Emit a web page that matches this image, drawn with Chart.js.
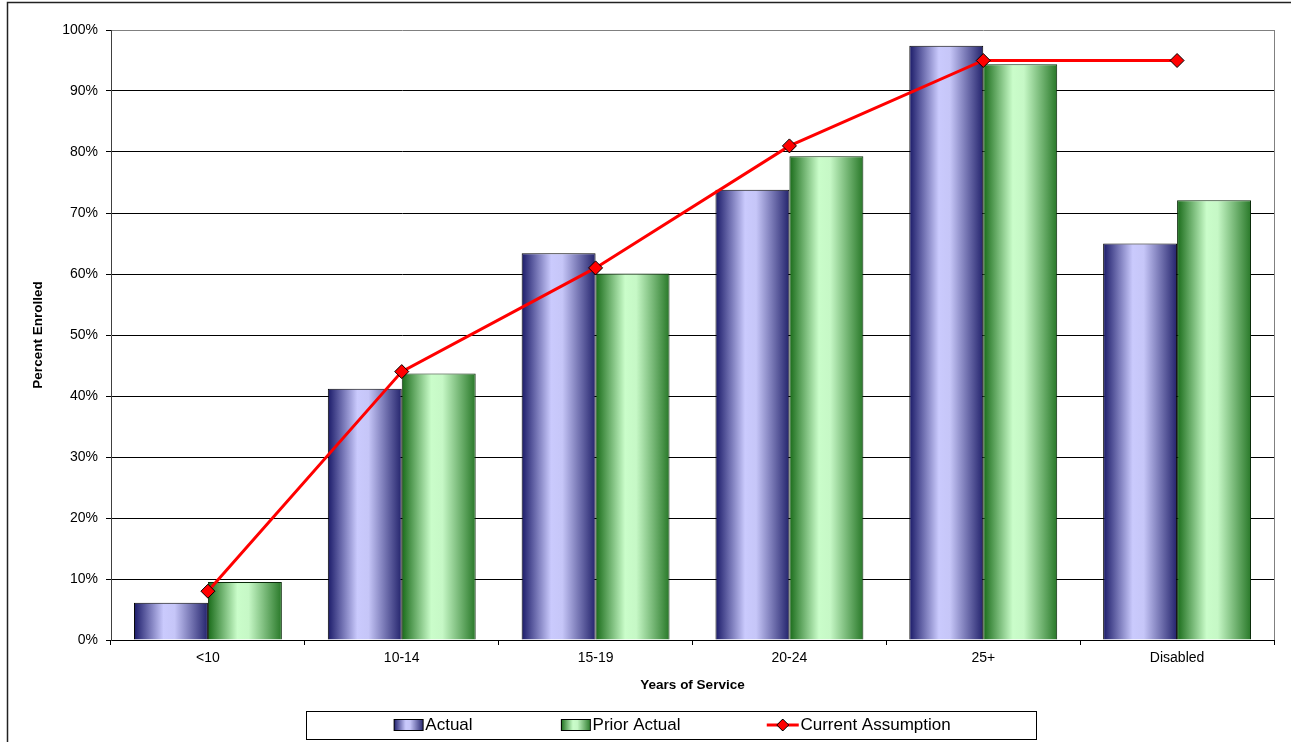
<!DOCTYPE html>
<html>
<head>
<meta charset="utf-8">
<script src="https://cdn.jsdelivr.net/npm/chart.js@4/dist/chart.umd.min.js"></script>
<style>
  html, body { margin: 0; padding: 0; background: #fff; }
  #wrap { width: 1291px; height: 742px; position: relative; }
</style>
</head>
<body>
<div id="wrap"><canvas id="c" width="1291" height="742"></canvas></div>
<script>
// ---- data ----
const categories = ['<10', '10-14', '15-19', '20-24', '25+', 'Disabled'];
const actual = [6.1, 41.2, 63.4, 73.8, 97.4, 65.0];
const priorActual = [9.5, 43.7, 60.1, 79.3, 94.4, 72.1];
const currentAssumption = [8, 44, 61, 81, 95, 95];
const seriesNames = ['Actual', 'Prior Actual', 'Current Assumption'];
const yTicks = { min: 0, max: 100, step: 10 };

// ---- styles ----
const CAT_PCT = 0.763;
const FONT = "'Liberation Sans', Arial, Helvetica, sans-serif";
const BLUE_STOPS = [[0, '#1a1a68'], [0.4, '#cacafd'], [0.55, '#c6c6f8'], [1, '#23236c']];
const GREEN_STOPS = [[0, '#196b19'], [0.4, '#cafdca'], [0.55, '#c6f8c6'], [1, '#287828']];
const LEG_FONT = 17;
const LEG_BOX = 93.5;
const LEG_PAD = 18;

function barGradient(stops) {
  return function (ctx) {
    const fallback = stops[1][1];
    if (ctx.type !== 'data') return fallback;
    const chart = ctx.chart, xs = chart.scales.x;
    if (!xs || !xs.width) return fallback;
    const n = chart.data.labels.length;
    const barW = xs.width / n * CAT_PCT / 2;
    const cx = xs.getPixelForValue(ctx.dataIndex) + (ctx.datasetIndex === 0 ? -barW / 2 : barW / 2);
    const g = chart.ctx.createLinearGradient(cx - barW / 2, 0, cx + barW / 2, 0);
    stops.forEach(s => g.addColorStop(s[0], s[1]));
    return g;
  };
}

// legend swatch images
function makeSwatch(kind) {
  const W = Math.round(LEG_BOX + LEG_FONT), H = 18;
  const cv = document.createElement('canvas');
  cv.width = W; cv.height = H;
  const c = cv.getContext('2d');
  if (kind === 'line') {
    const x1 = W - 34, x2 = W - 2, cy = H / 2;
    c.strokeStyle = '#ff0000'; c.lineWidth = 3;
    c.beginPath(); c.moveTo(x1, cy); c.lineTo(x2, cy); c.stroke();
    const mx = (x1 + x2) / 2, r = 6;
    c.beginPath(); c.moveTo(mx, cy - r); c.lineTo(mx + r, cy); c.lineTo(mx, cy + r); c.lineTo(mx - r, cy); c.closePath();
    c.fillStyle = '#ff0000'; c.fill(); c.strokeStyle = '#000'; c.lineWidth = 1; c.stroke();
  } else {
    const stops = kind === 'blue' ? BLUE_STOPS : GREEN_STOPS;
    const x1 = W - 32, w = 30, y1 = 3, h = 12;
    const g = c.createLinearGradient(x1, 0, x1 + w, 0);
    stops.forEach(s => g.addColorStop(s[0], s[1]));
    c.fillStyle = g; c.fillRect(x1, y1, w, h);
    c.strokeStyle = '#000'; c.lineWidth = 1; c.strokeRect(x1 + 0.5, y1 + 0.5, w - 1, h - 1);
  }
  return cv;
}
const LEGEND_IMG = [makeSwatch('blue'), makeSwatch('green'), makeSwatch('line')];

const framePlugin = {
  id: 'frame',
  beforeDraw(chart) {
    const c = chart.ctx;
    c.save();
    c.fillStyle = '#fff';
    c.fillRect(0, 0, chart.width, chart.height);
    c.strokeStyle = '#222';
    c.lineWidth = 1.5;
    c.beginPath();
    c.moveTo(7.5, chart.height + 2);
    c.lineTo(7.5, 2.5);
    c.lineTo(chart.width + 2, 2.5);
    c.stroke();
    c.restore();
  },
  beforeDatasetsDraw(chart) {
    const a = chart.chartArea, c = chart.ctx;
    c.save();
    c.strokeStyle = '#808080';
    c.lineWidth = 1;
    c.beginPath();
    c.moveTo(Math.round(a.right) + 0.5, a.top);
    c.lineTo(Math.round(a.right) + 0.5, a.bottom);
    c.stroke();
    c.restore();
  },
  afterDraw(chart) {
    const lg = chart.legend;
    if (!lg || !lg.legendHitBoxes || !lg.legendHitBoxes.length) return;
    const hb = lg.legendHitBoxes;
    const first = hb[0], last = hb[hb.length - 1];
    const visStart = first.left + LEG_BOX + LEG_FONT / 2 - 31;
    const left = Math.round(visStart - 88);
    const right = Math.round(last.left + last.width + 85);
    const cy = first.top + first.height / 2;
    const c = chart.ctx;
    c.save();
    c.strokeStyle = '#000';
    c.lineWidth = 1;
    c.strokeRect(left + 0.5, Math.round(cy - 14) + 0.5, right - left, 28);
    c.restore();
  }
};

Chart.defaults.font.family = FONT;
Chart.defaults.color = '#000';

new Chart(document.getElementById('c'), {
  type: 'bar',
  data: {
    labels: categories,
    datasets: [
      {
        label: seriesNames[0],
        data: actual,
        backgroundColor: barGradient(BLUE_STOPS),
        borderColor: '#000',
        borderWidth: 1,
        categoryPercentage: CAT_PCT,
        barPercentage: 1.0,
        order: 1
      },
      {
        label: seriesNames[1],
        data: priorActual,
        backgroundColor: barGradient(GREEN_STOPS),
        borderColor: '#0a2a0a',
        borderWidth: 1,
        categoryPercentage: CAT_PCT,
        barPercentage: 1.0,
        order: 1
      },
      {
        type: 'line',
        label: seriesNames[2],
        data: currentAssumption,
        borderColor: '#ff0000',
        backgroundColor: '#ff0000',
        borderWidth: 3,
        tension: 0,
        pointStyle: 'rectRot',
        pointRadius: 7,
        pointBackgroundColor: '#ff0000',
        pointBorderColor: '#000',
        pointBorderWidth: 1,
        order: 0
      }
    ]
  },
  options: {
    responsive: false,
    animation: false,
    events: [],
    layout: { padding: { left: 0, right: 17, top: 30, bottom: -1.5 } },
    plugins: {
      tooltip: { enabled: false },
      title: { display: false },
      legend: {
        display: true,
        position: 'bottom',
        labels: {
          usePointStyle: true,
          pointStyleWidth: LEG_BOX,
          padding: LEG_PAD,
          color: '#000',
          font: { size: LEG_FONT, family: FONT },
          sort: (a, b) => a.datasetIndex - b.datasetIndex,
          generateLabels(chart) {
            const items = Chart.defaults.plugins.legend.labels.generateLabels(chart);
            items.forEach(it => { it.pointStyle = LEGEND_IMG[it.datasetIndex]; it.lineWidth = 0; });
            return items;
          }
        }
      }
    },
    scales: {
      x: {
        type: 'category',
        offset: true,
        afterFit(s) { s.height = 58.5; },
        grid: {
          offset: true,
          drawOnChartArea: false,
          drawTicks: true,
          tickLength: 5,
          color: '#000',
          tickColor: '#000'
        },
        border: { display: true, color: '#000', width: 1 },
        ticks: { font: { size: 14 }, padding: 5, color: '#000', maxRotation: 0, autoSkip: false },
        title: {
          display: true,
          text: 'Years of Service',
          font: { size: 13.5, weight: 'bold' },
          color: '#000',
          padding: { top: 0, bottom: 5.5 }
        }
      },
      y: {
        min: yTicks.min,
        max: yTicks.max,
        afterFit(s) { s.width = 111; },
        grid: {
          color: (ctx) => (ctx.tick && ctx.tick.value === yTicks.max) ? '#808080' : '#000',
          tickColor: '#000',
          tickLength: 5,
          lineWidth: 1
        },
        border: { display: true, color: '#404040', width: 1 },
        ticks: {
          stepSize: yTicks.step,
          font: { size: 14 },
          padding: 8,
          color: '#000',
          callback: (v) => v + '%'
        },
        title: {
          display: true,
          text: 'Percent Enrolled',
          font: { size: 13.5, weight: 'bold' },
          color: '#000',
          padding: { top: 30, bottom: 0 }
        }
      }
    }
  },
  plugins: [framePlugin]
});
</script>
</body>
</html>
